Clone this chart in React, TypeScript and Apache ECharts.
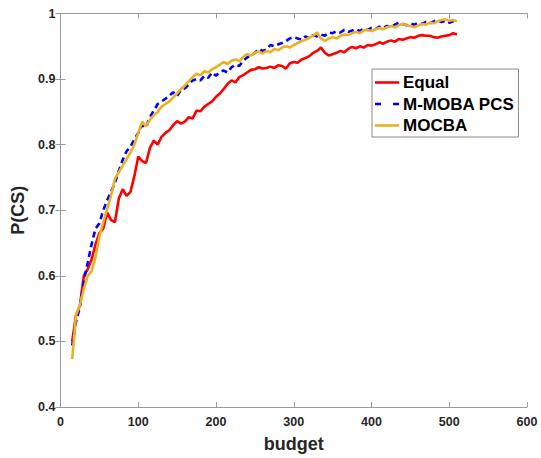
import React, { useEffect, useRef } from "react";
import * as echarts from "echarts";

const budget: number[] = [
  15, 20, 25, 30, 35, 40, 45, 50, 55, 60, 65, 70, 75, 80, 85, 90, 95, 100,
  105, 110, 115, 120, 125, 130, 135, 140, 145, 150, 155, 160, 165, 170, 175, 180,
  185, 190, 195, 200, 205, 210, 215, 220, 225, 230, 235, 240, 245, 250, 255, 260,
  265, 270, 275, 280, 285, 290, 295, 300, 305, 310, 315, 320, 325, 330, 335, 340,
  345, 350, 355, 360, 365, 370, 375, 380, 385, 390, 395, 400, 405, 410, 415, 420,
  425, 430, 435, 440, 445, 450, 455, 460, 465, 470, 475, 480, 485, 490, 495, 500,
  505, 510,
];

const equalValues: number[] = [
  0.5, 0.54, 0.555, 0.6, 0.61, 0.625, 0.648, 0.665, 0.672, 0.697, 0.685, 0.682, 0.718, 0.732, 0.722, 0.728, 0.752, 0.782,
  0.775, 0.772, 0.795, 0.806, 0.8, 0.812, 0.818, 0.822, 0.83, 0.836, 0.832, 0.835, 0.842, 0.84, 0.852, 0.851,
  0.858, 0.862, 0.866, 0.873, 0.878, 0.885, 0.893, 0.898, 0.895, 0.903, 0.906, 0.91, 0.914, 0.915, 0.918, 0.916,
  0.917, 0.919, 0.917, 0.921, 0.92, 0.916, 0.924, 0.926, 0.925, 0.93, 0.932, 0.935, 0.94, 0.943, 0.948, 0.94,
  0.936, 0.938, 0.94, 0.943, 0.941, 0.946, 0.949, 0.947, 0.95, 0.948, 0.952, 0.951, 0.953, 0.956, 0.954, 0.957,
  0.959, 0.957, 0.961, 0.96, 0.962, 0.964, 0.963, 0.966, 0.967, 0.966, 0.966, 0.964, 0.963, 0.965, 0.966, 0.967,
  0.97, 0.968,
];

const mmobaValues: number[] = [
  0.494, 0.53, 0.553, 0.593, 0.62, 0.648, 0.672, 0.68, 0.7, 0.715, 0.728, 0.742, 0.76, 0.777, 0.79, 0.797, 0.808, 0.818,
  0.83, 0.826, 0.842, 0.852, 0.862, 0.866, 0.87, 0.875, 0.88, 0.874, 0.884, 0.886, 0.892, 0.898, 0.9, 0.898,
  0.905, 0.902, 0.91, 0.905, 0.911, 0.913, 0.91, 0.918, 0.922, 0.92, 0.928, 0.933, 0.936, 0.94, 0.946, 0.943,
  0.945, 0.952, 0.95, 0.953, 0.955, 0.958, 0.962, 0.964, 0.962, 0.96, 0.965, 0.962, 0.967, 0.965, 0.968, 0.966,
  0.971, 0.97, 0.973, 0.971, 0.975, 0.972, 0.974, 0.976, 0.973, 0.977, 0.975, 0.978, 0.976, 0.98, 0.978, 0.981,
  0.979, 0.983, 0.986, 0.984, 0.982, 0.985, 0.983, 0.986, 0.984, 0.987, 0.985, 0.988, 0.99, 0.987, 0.989, 0.986,
  0.988, 0.987,
];

const mocbaValues: number[] = [
  0.473, 0.54, 0.556, 0.58, 0.6, 0.607, 0.628, 0.66, 0.682, 0.702, 0.722, 0.748, 0.758, 0.768, 0.778, 0.788, 0.8, 0.818,
  0.835, 0.828, 0.838, 0.845, 0.85, 0.858, 0.862, 0.866, 0.872, 0.878, 0.885, 0.89, 0.897, 0.903, 0.908, 0.906,
  0.912, 0.91, 0.915, 0.918, 0.922, 0.926, 0.923, 0.928, 0.93, 0.927, 0.934, 0.938, 0.936, 0.94, 0.942, 0.939,
  0.943, 0.941, 0.946, 0.944, 0.948, 0.95, 0.948, 0.952, 0.955, 0.958, 0.96, 0.963, 0.966, 0.971, 0.962, 0.958,
  0.962, 0.964, 0.962, 0.966, 0.968, 0.967, 0.97, 0.972, 0.97, 0.974, 0.975, 0.973, 0.976, 0.978, 0.976, 0.979,
  0.981, 0.979, 0.982, 0.984, 0.982, 0.981, 0.979, 0.982, 0.984, 0.983, 0.986, 0.985, 0.988, 0.99, 0.991, 0.989,
  0.99, 0.988,
];

const seriesNames: string[] = ["Equal", "M-MOBA PCS", "MOCBA"];
const xTicks: number[] = [0, 100, 200, 300, 400, 500, 600];
const yTicks: number[] = [0.4, 0.5, 0.6, 0.7, 0.8, 0.9, 1];

const FONT = "'Liberation Sans', Arial, Helvetica, sans-serif";
const AXIS_COLOR = "#9a9a9a";
const TEXT_COLOR = "#262626";
const SOLID_ICON = "path://M0,0 L24,0 L24,2.6 L0,2.6 Z";
const DASH_ICON = "path://M0,0 L6,0 L6,2.6 L0,2.6 Z M18,0 L24,0 L24,2.6 L18,2.6 Z";

function pairs(xs: number[], ys: number[]): number[][] {
  return xs.map((x, i) => [x, ys[i]]);
}

export default function App() {
  const ref = useRef<HTMLDivElement>(null);

  useEffect(() => {
    if (!ref.current) return;
    const chart = echarts.init(ref.current, undefined, { renderer: "svg" });
    const axisCommon = {
      axisLine: { show: true, lineStyle: { color: AXIS_COLOR, width: 1 } },
      axisTick: { show: true, inside: true, length: 5, lineStyle: { color: AXIS_COLOR } },
      splitLine: { show: false },
    };
    chart.setOption({
      animation: false,
      textStyle: { fontFamily: FONT },
      grid: { left: 60.5, right: 14, top: 13.5, bottom: 42, containLabel: false },
      legend: {
        data: [
          { name: seriesNames[0], icon: SOLID_ICON },
          { name: seriesNames[1], icon: DASH_ICON },
          { name: seriesNames[2], icon: SOLID_ICON },
        ],
        orient: "vertical",
        left: 372,
        top: 69,
        backgroundColor: "#ffffff",
        borderColor: "#8a8a8a",
        borderWidth: 1,
        padding: [5, 4, 3, 3],
        itemWidth: 24,
        itemHeight: 14,
        itemGap: 4.5,
        selectedMode: false,
        textStyle: {
          fontFamily: FONT,
          fontSize: 17,
          fontWeight: "bold",
          color: "#000000",
          padding: [0, 0, 0, -1],
        },
      },
      xAxis: [
        {
          type: "value",
          min: xTicks[0],
          max: xTicks[xTicks.length - 1],
          interval: 100,
          position: "bottom",
          ...axisCommon,
          name: "budget",
          nameLocation: "middle",
          nameGap: 28,
          nameTextStyle: { fontFamily: FONT, fontSize: 18, fontWeight: "bold", color: TEXT_COLOR },
          axisLabel: { show: true, margin: 8, fontFamily: FONT, fontSize: 12.5, fontWeight: "bold", color: TEXT_COLOR },
        },
        {
          type: "value",
          min: xTicks[0],
          max: xTicks[xTicks.length - 1],
          interval: 100,
          position: "top",
          ...axisCommon,
          axisLabel: { show: false },
        },
      ],
      yAxis: [
        {
          type: "value",
          min: yTicks[0],
          max: yTicks[yTicks.length - 1],
          interval: 0.1,
          position: "left",
          ...axisCommon,
          name: "P(CS)",
          nameLocation: "middle",
          nameGap: 26,
          nameTextStyle: { fontFamily: FONT, fontSize: 18, fontWeight: "bold", color: TEXT_COLOR },
          axisLabel: {
            show: true,
            margin: 5,
            fontFamily: FONT,
            fontSize: 12.5,
            fontWeight: "bold",
            color: TEXT_COLOR,
            formatter: (v: number) => String(Math.round(v * 10) / 10),
          },
        },
        {
          type: "value",
          min: yTicks[0],
          max: yTicks[yTicks.length - 1],
          interval: 0.1,
          position: "right",
          ...axisCommon,
          axisLabel: { show: false },
        },
      ],
      series: [
        {
          name: seriesNames[0],
          type: "line",
          data: pairs(budget, equalValues),
          symbol: "none",
          lineStyle: { color: "#ff0000", width: 2.6 },
          itemStyle: { color: "#ff0000" },
        },
        {
          name: seriesNames[1],
          type: "line",
          data: pairs(budget, mmobaValues),
          symbol: "none",
          lineStyle: { color: "#0000ff", width: 2.6, type: [6, 4] },
          itemStyle: { color: "#0000ff" },
        },
        {
          name: seriesNames[2],
          type: "line",
          data: pairs(budget, mocbaValues),
          symbol: "none",
          lineStyle: { color: "#edb120", width: 2.6 },
          itemStyle: { color: "#edb120" },
        },
      ],
    });
    return () => chart.dispose();
  }, []);

  return (
    <div
      ref={ref}
      style={{ position: "fixed", left: 0, top: 0, width: 541, height: 458, background: "#ffffff" }}
    />
  );
}
